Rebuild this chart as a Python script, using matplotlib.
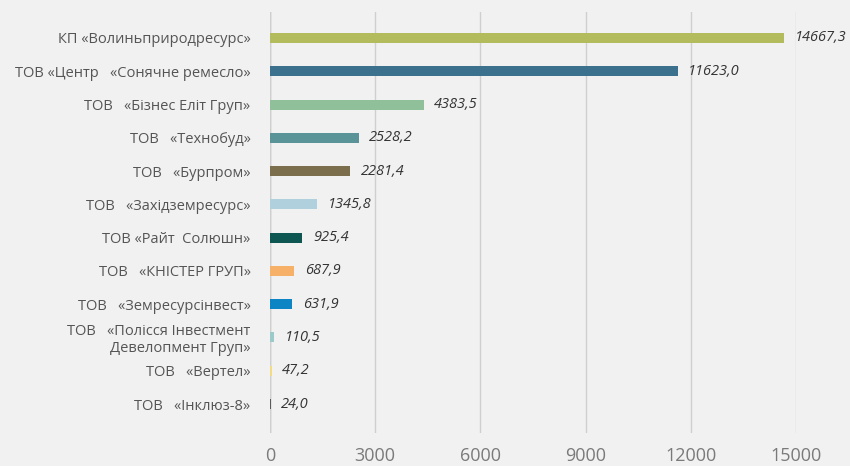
import matplotlib.pyplot as plt

# data
companies = [
    "КП «Волиньприродресурс»",
    "ТОВ «Центр   «Сонячне ремесло»",
    "ТОВ   «Бізнес Еліт Груп»",
    "ТОВ   «Технобуд»",
    "ТОВ   «Бурпром»",
    "ТОВ   «Західземресурс»",
    "ТОВ «Райт  Солюшн»",
    "ТОВ   «КНІСТЕР ГРУП»",
    "ТОВ   «Земресурсінвест»",
    "ТОВ   «Полісся Інвестмент\nДевелопмент Груп»",
    "ТОВ   «Вертел»",
    "ТОВ   «Інклюз-8»",
]
values = [14667.3, 11623.0, 4383.5, 2528.2, 2281.4, 1345.8,
          925.4, 687.9, 631.9, 110.5, 47.2, 24.0]
bar_colors = ["#b2bc5c", "#3b718c", "#8fc09a", "#5a9499", "#7b6e4c", "#afd0dc",
              "#0e5651", "#f7b068", "#0d84c4", "#9ccaca", "#f4dc84", "#5a5a5a"]
xticks = [0, 3000, 6000, 9000, 12000, 15000]

bg = "#f1f1f1"
fig = plt.figure(figsize=(8.5, 4.66), dpi=100, facecolor=bg)
ax = fig.add_axes([270 / 850, 1 - 433 / 466, 526 / 850, 421 / 466])
ax.set_facecolor(bg)

y = list(range(len(values)))
ax.barh(y, values, height=0.3, color=bar_colors, zorder=3)

for yi, v in zip(y, values):
    ax.text(v + 300, yi, f"{v:.1f}".replace(".", ","), va="center", ha="left",
            fontsize=10.5, style="italic", color="#333333", family="Open Sans",
            clip_on=False)

ax.set_xlim(0, 15000)
ax.set_ylim(len(values) - 1 + 0.87, -0.78)
ax.set_xticks(xticks)
ax.set_xticklabels([str(t) for t in xticks], fontsize=13, color="#7a7a7a",
                   family="Open Sans")
ax.set_yticks(y)
ax.set_yticklabels(companies, fontsize=10.5, color="#555555", family="Open Sans",
                   linespacing=1.15)
ax.tick_params(axis="both", length=0)
ax.tick_params(axis="x", pad=10)
ax.tick_params(axis="y", pad=14)
for lbl in ax.get_yticklabels():
    lbl.set_horizontalalignment("right")
    lbl.set_multialignment("right")

ax.grid(axis="x", color="#cfcfcf", linewidth=1, zorder=0)
ax.axvline(0, color="#bbbbbb", linewidth=1, zorder=1)
for s in ax.spines.values():
    s.set_visible(False)

fig.savefig("out.png", dpi=100, facecolor=bg)
